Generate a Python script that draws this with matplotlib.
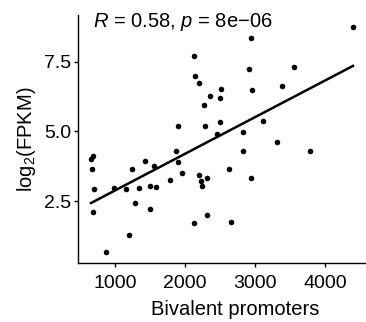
import numpy as np
import matplotlib.pyplot as plt

plt.rcParams['font.family'] = ['Liberation Sans', 'DejaVu Sans']
plt.rcParams['mathtext.fontset'] = 'custom'
plt.rcParams['mathtext.rm'] = 'Liberation Sans'
plt.rcParams['mathtext.it'] = 'Liberation Sans:italic'

# bivalent promoters vs log2(FPKM)
bivalent = [687, 659, 666, 694, 690, 879, 993, 1163, 1241, 1281,
            1201, 1345, 1426, 1504, 1500, 1582, 1561, 1788, 1873, 1894,
            1901, 1962, 2124, 2200, 2221, 2242, 2316, 2317, 2292, 2458,
            2502, 2271, 2133, 2147, 2195, 2360, 2512, 2505, 2938, 2914,
            3553, 3388, 2952, 3108, 2834, 3317, 2834, 3790, 2626, 2948,
            2654, 4396]
log_fpkm = [4.11, 4.03, 3.67, 2.95, 2.11, 0.69, 2.98, 2.94, 3.66, 2.44,
            1.31, 2.96, 3.95, 3.04, 2.22, 3.01, 3.78, 3.26, 4.31, 3.91,
            5.18, 3.51, 1.73, 3.44, 3.22, 3.04, 3.32, 2.00, 5.21, 4.90,
            5.32, 5.95, 7.70, 6.99, 6.73, 6.28, 6.53, 6.18, 8.36, 7.23,
            7.29, 6.64, 6.49, 5.36, 4.99, 4.61, 4.31, 4.29, 3.67, 3.34,
            1.76, 8.75]
xticks = [1000, 2000, 3000, 4000]
yticks = [2.5, 5.0, 7.5]

x = np.array(bivalent, dtype=float)
y = np.array(log_fpkm)

fig = plt.figure(figsize=(3.66, 3.22), dpi=100)
ax = fig.add_axes([0.213, 0.183, 0.787, 0.769])

ax.scatter(x, y, s=16, color='black', linewidths=0, zorder=3)

# linear fit
cff = np.polyfit(x, y, 1)
X = np.array([x.min(), x.max()])
ax.plot(X, cff[0] * X + cff[1], color='black', lw=1.8, zorder=2)

ax.text(680, 8.9, '$R$ = 0.58, $p$ = 8e\u221206', fontsize=14.5,
        ha='left', va='center')

ax.set_xlim(472, 4583)
ax.set_ylim(0.29, 9.15)
ax.set_xticks(xticks)
ax.set_yticks(yticks)
ax.set_yticklabels(['2.5', '5.0', '7.5'])

for s in ['top', 'right']:
    ax.spines[s].set_visible(False)
for s in ['left', 'bottom']:
    ax.spines[s].set_linewidth(1.0)
ax.tick_params(length=3, width=1, labelsize=14, colors='black', pad=2)
ax.tick_params(axis='x', pad=5.5)

ax.set_xlabel('Bivalent promoters', fontsize=14.5, labelpad=6)
ax.xaxis.label.set_x(0.547)
ax.set_ylabel('log$_2$(FPKM)', fontsize=14.5, labelpad=4)

fig.savefig('out.png', dpi=100)
